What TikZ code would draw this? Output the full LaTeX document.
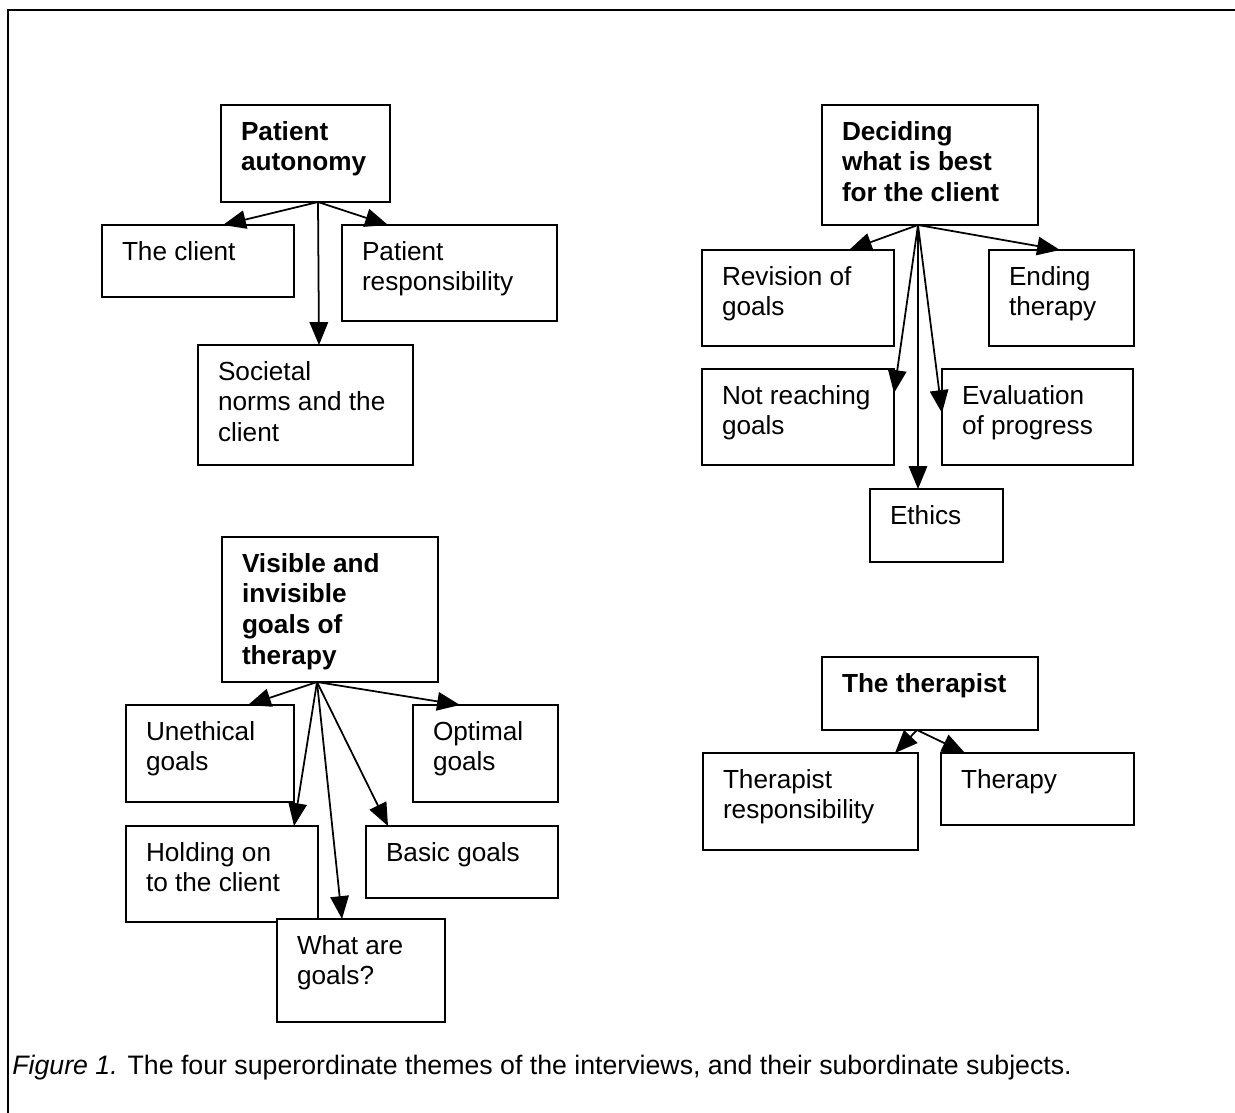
\documentclass[tikz,border=0pt]{standalone}
\usepackage{fontspec}
\setmainfont{Liberation Sans}
\usepackage{tikz}
\usetikzlibrary{arrows.meta,positioning,calc}

% one pixel of the layout
\newlength\pxu
\setlength\pxu{0.02cm}
% fixed-size box, text hung from the top left
\newcommand{\boxtxt}[3]{\parbox[t][#2\pxu][t]{#1\pxu}{\raggedright\leftskip=20\pxu\rule{0pt}{35\pxu}#3}}

\tikzset{
  box/.style={draw, fill=white, line width=1.15pt, inner sep=0pt, outer sep=0pt,
    anchor=north west, font=\fontsize{14.9}{17.6}\selectfont},
  themebox/.style={box, font=\fontsize{14.9}{17.6}\selectfont\bfseries},
  link/.style={->, line width=1pt}
}

\begin{document}
\begin{tikzpicture}[x=0.02cm, y=-0.02cm, >={Triangle[length=13pt,width=10.5pt]}]
\useasboundingbox (0,0) rectangle (1235,1113);
\draw[line width=1.7pt] (8,1113) -- (8,10) -- (1235,10);

% patient autonomy
\node[themebox] (pa) at (221,105) {\boxtxt{169}{97}{Patient\\autonomy}};
\node[box] (cl) at (102,225) {\boxtxt{192}{72}{The client}};
\node[box] (pr) at (342,225) {\boxtxt{215}{96}{Patient\\responsibility}};
\node[box] (so) at (198,345) {\boxtxt{215}{120}{Societal\\norms and the\\client}};
\coordinate (pa-o) at ($(pa.south west)+(97,0)$);
\draw[link] (pa-o) -- ($(cl.north west)+(121,0)$);
\draw[link] (pa-o) -- ($(pr.north west)+(46,0)$);
\draw[link] (pa-o) -- ($(so.north west)+(121,0)$);

% deciding what is best
\node[themebox] (db) at (822,105) {\boxtxt{216}{120}{Deciding\\what is best\\for the client}};
\node[box] (rv) at (702,250) {\boxtxt{192}{96}{Revision of\\goals}};
\node[box] (en) at (989,250) {\boxtxt{145}{96}{Ending\\therapy}};
\node[box] (nr) at (702,369) {\boxtxt{192}{96}{Not reaching\\goals}};
\node[box] (ev) at (942,369) {\boxtxt{191}{96}{Evaluation\\of progress}};
\node[box] (et) at (870,489) {\boxtxt{133}{73}{Ethics}};
\coordinate (db-o) at ($(db.south west)+(96,0)$);
\draw[link] (db-o) -- ($(rv.north west)+(147,0)$);
\draw[link] (db-o) -- ($(en.north west)+(71,0)$);
\draw[link] (db-o) -- ($(nr.north east)+(0,24)$);
\draw[link] (db-o) -- ($(ev.north west)+(0,44)$);
\draw[link] (db-o) -- ($(et.north west)+(48,0)$);

% visible and invisible goals
\node[themebox] (vi) at (222,537) {\boxtxt{216}{145}{Visible and\\invisible\\goals of\\therapy}};
\node[box] (un) at (126,705) {\boxtxt{168}{97}{Unethical\\goals}};
\node[box] (op) at (413,705) {\boxtxt{145}{97}{Optimal\\goals}};
\node[box] (ho) at (126,826) {\boxtxt{192}{96}{Holding on\\to the client}};
\node[box] (ba) at (366,826) {\boxtxt{192}{72}{Basic goals}};
\node[box] (wh) at (277,919) {\boxtxt{168}{103}{What are\\goals?}};
\coordinate (vi-o) at ($(vi.south west)+(95,0)$);
\draw[link] (vi-o) -- ($(un.north west)+(122,0)$);
\draw[link] (vi-o) -- ($(op.north west)+(47,0)$);
\draw[link] (vi-o) -- ($(ho.north west)+(168,0)$);
\draw[link] (vi-o) -- ($(wh.north west)+(65,0)$);
\draw[link] (vi-o) -- ($(ba.north west)+(22,0)$);

% the therapist
\node[themebox] (tt) at (822,657) {\boxtxt{216}{73}{The therapist}};
\node[box] (tr) at (703,753) {\boxtxt{215}{97}{Therapist\\responsibility}};
\node[box] (ty) at (941,753) {\boxtxt{193}{72}{Therapy}};
\coordinate (tt-o) at ($(tt.south west)+(95,0)$);
\draw[link] (tt-o) -- ($(tr.north west)+(192,0)$);
\draw[link] (tt-o) -- ($(ty.north west)+(24,0)$);

\node[anchor=base west, inner sep=0pt, font=\fontsize{15.2}{18}\selectfont] (cap) at (12,1074)
  {{\itshape Figure 1.} The four superordinate themes of the interviews, and their subordinate subjects.};
\end{tikzpicture}
\end{document}
